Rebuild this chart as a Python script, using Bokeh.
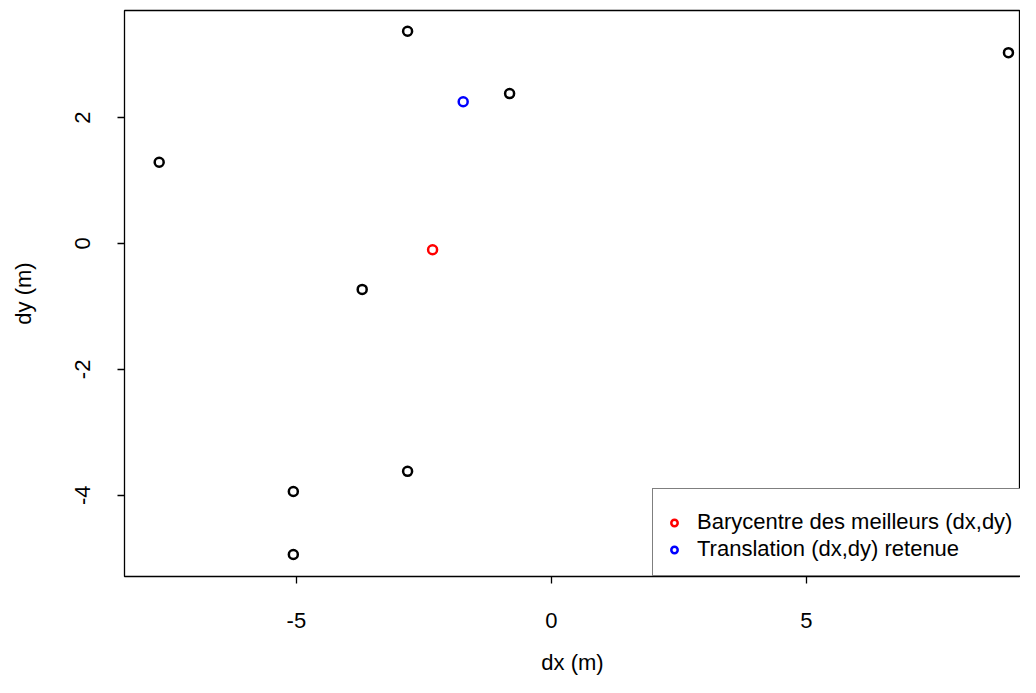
from bokeh.plotting import figure
from bokeh.models import Range1d, FixedTicker, Legend, LegendItem
from bokeh.embed import file_html
from bokeh.resources import INLINE

# data
cand_dx = [-7.69, -2.82, -0.82, 8.96, -3.71, -2.82, -5.06, -5.06]
cand_dy = [1.29, 3.37, 2.38, 3.03, -0.73, -3.62, -3.94, -4.94]
bary_dx = [-2.33]
bary_dy = [-0.10]
trans_dx = [-1.73]
trans_dy = [2.25]
x_ticks = [-5, 0, 5]
y_ticks = [-4, -2, 0, 2]
legend_labels = ["Barycentre des meilleurs (dx,dy)", "Translation (dx,dy) retenue"]

FONT = "Liberation Sans"
FS = "22px"

p = figure(width=1020, height=677, output_backend="svg", toolbar_location=None,
           x_range=Range1d(-8.37, 9.196), y_range=Range1d(-5.29, 3.70),
           min_border_left=124, min_border_top=10, min_border_right=0, min_border_bottom=101)
p.background_fill_color = "white"
p.border_fill_color = "white"
p.outline_line_color = "black"
p.outline_line_width = 1.3
p.grid.visible = False

for ax in (p.xaxis[0], p.yaxis[0]):
    ax.axis_line_color = None
    ax.major_tick_out = 7
    ax.major_tick_in = 0
    ax.minor_tick_line_color = None
    ax.major_tick_line_color = "black"
    ax.major_tick_line_width = 1.3
    ax.major_label_text_font = FONT
    ax.major_label_text_font_size = FS
    ax.major_label_text_color = "black"
    ax.axis_label_text_font = FONT
    ax.axis_label_text_font_size = FS
    ax.axis_label_text_font_style = "normal"
    ax.axis_label_text_color = "black"

p.xaxis.ticker = FixedTicker(ticks=x_ticks)
p.yaxis.ticker = FixedTicker(ticks=y_ticks)
p.xaxis.major_label_overrides = {t: str(t) for t in x_ticks}
p.yaxis.major_label_overrides = {t: str(t) for t in y_ticks}
p.xaxis.axis_label = "dx (m)"
p.yaxis.axis_label = "dy (m)"
p.xaxis.major_label_standoff = 29
p.xaxis.axis_label_standoff = 19
p.yaxis.major_label_standoff = 27
p.yaxis.axis_label_standoff = 37
p.yaxis.major_label_orientation = "vertical"

p.scatter(cand_dx, cand_dy, marker="circle", size=9, fill_color=None,
          line_color="black", line_width=2.5)
r_bary = p.scatter(bary_dx, bary_dy, marker="circle", size=9, fill_color=None,
                   line_color="red", line_width=2.5)
r_trans = p.scatter(trans_dx, trans_dy, marker="circle", size=9, fill_color=None,
                    line_color="blue", line_width=2.5)

legend = Legend(items=[LegendItem(label=legend_labels[0], renderers=[r_bary]),
                       LegendItem(label=legend_labels[1], renderers=[r_trans])],
                location=(528, 0), orientation="vertical",
                title=" ", title_text_font_size="7px", title_standoff=0,
                padding=13, margin=0, spacing=1,
                glyph_width=16, glyph_height=25, label_height=25,
                label_standoff=15,
                label_text_font=FONT, label_text_font_size=FS,
                label_text_color="black",
                border_line_color="black", border_line_width=1.3,
                background_fill_color="white", background_fill_alpha=1.0)
p.add_layout(legend, "center")

open("out.html", "w").write(file_html(p, INLINE))
